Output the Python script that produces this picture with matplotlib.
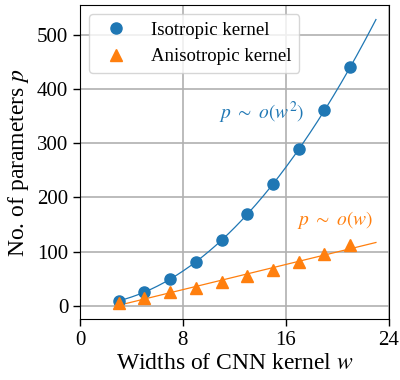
import numpy as np
import matplotlib.pyplot as plt

plt.rcParams['font.family'] = 'Liberation Serif'
plt.rcParams['mathtext.fontset'] = 'stix'

# kernel widths and parameter counts
widths = [3, 5, 7, 9, 11, 13, 15, 17, 19, 21]
iso_params = [9, 25, 49, 81, 121, 169, 225, 289, 361, 441]
aniso_params = [5.5, 14.7, 24.5, 32.5, 44, 54.6, 65.6, 80, 95, 113]

x_ticks = [0, 8, 16, 24]
y_ticks = [0, 100, 200, 300, 400, 500]

fig = plt.figure(figsize=(4, 3.8), dpi=100)
ax = fig.add_axes([0.2, 0.16, 0.772, 0.827])

# fitted trend lines
xs = np.linspace(3, 23, 200)
c2 = np.polyfit(widths, iso_params, 2)
c1 = np.polyfit(widths, aniso_params, 1)
ax.plot(xs, np.polyval(c2, xs), color='C0', lw=0.9)
ax.plot(xs, np.polyval(c1, xs), color='C1', lw=0.9)

ax.plot(widths, iso_params, 'o', color='C0', ms=8, label='Isotropic kernel')
ax.plot(widths, aniso_params, '^', color='C1', ms=8, label='Anisotropic kernel')

ax.text(14.1, 357, r'$p\ \sim\ o(w^2)$', color='C0', fontsize=14, ha='center', va='center')
ax.text(19.8, 158, r'$p\ \sim\ o(w)$', color='C1', fontsize=14, ha='center', va='center')

ax.set_xlim(0, 24)
ax.set_ylim(-25, 556)
ax.set_xticks(x_ticks)
ax.set_yticks(y_ticks)
ax.tick_params(labelsize=15, length=5, width=1)
ax.grid(True, color='#b0b0b0', lw=1.2)
ax.set_axisbelow(True)
ax.set_xlabel('Widths of CNN kernel $w$', fontsize=17, labelpad=2)
ax.set_ylabel('No. of parameters $p$', fontsize=17, labelpad=4)
ax.legend(loc='upper left', fontsize=13.5, handletextpad=0.9, borderaxespad=0.5)

fig.savefig('out.png')
